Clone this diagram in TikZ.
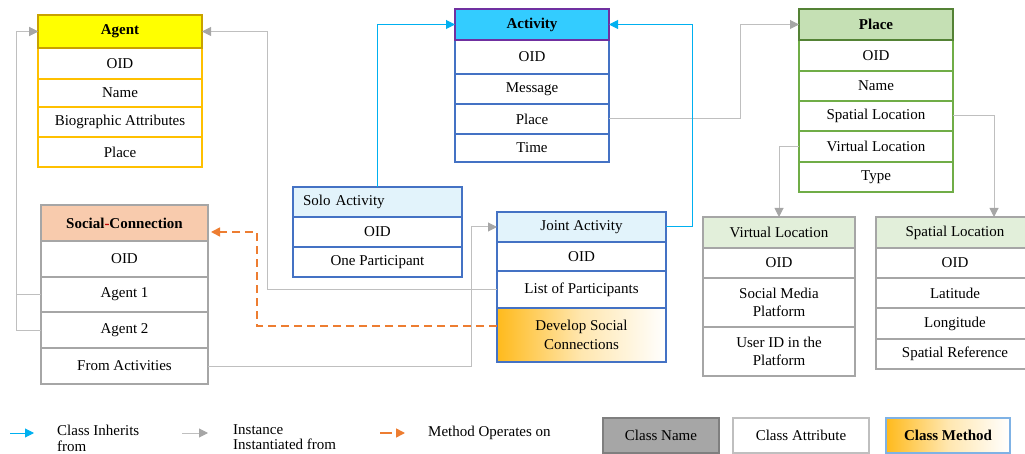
\documentclass[tikz,border=0pt]{standalone}
\usepackage{fontspec}
\setmainfont{Liberation Serif}
\usetikzlibrary{arrows.meta,calc}
\definecolor{agtfill}{HTML}{FFFF00}
\definecolor{agthdr}{HTML}{C9A100}
\definecolor{agtrow}{HTML}{FFC000}
\definecolor{actfill}{HTML}{33CCFF}
\definecolor{acthdr}{HTML}{7030A0}
\definecolor{actrow}{HTML}{4472C4}
\definecolor{plcfill}{HTML}{C5E0B4}
\definecolor{plchdr}{HTML}{548235}
\definecolor{plcrow}{HTML}{70AD47}
\definecolor{socfill}{HTML}{F8CBAD}
\definecolor{grayrow}{HTML}{A6A6A6}
\definecolor{subfill}{HTML}{E2F3FB}
\definecolor{locfill}{HTML}{E2EFDA}
\definecolor{inhblue}{HTML}{00B0F0}
\definecolor{instgray}{HTML}{BFBFBF}
\definecolor{tipgray}{HTML}{A6A6A6}
\definecolor{methorange}{HTML}{ED7D31}
\definecolor{gradorange}{HTML}{FFBA1C}
\definecolor{hyphred}{HTML}{C00000}
\definecolor{namefill}{HTML}{A6A6A6}
\definecolor{nameborder}{HTML}{7F7F7F}
\definecolor{methborder}{HTML}{7FB2E5}
\tikzset{
  cell/.style={draw, line width=1.3pt, anchor=north west, inner sep=0pt, outer sep=0pt,
    align=center, font=\fontsize{15}{17.5}\selectfont},
  agthead/.style={cell, fill=agtfill, draw=agthdr, font=\fontsize{15}{17.5}\selectfont\bfseries},
  agtcell/.style={cell, draw=agtrow},
  acthead/.style={cell, fill=actfill, draw=acthdr, font=\fontsize{15}{17.5}\selectfont\bfseries},
  actcell/.style={cell, draw=actrow},
  plchead/.style={cell, fill=plcfill, draw=plchdr, font=\fontsize{15}{17.5}\selectfont\bfseries},
  plccell/.style={cell, draw=plcrow},
  sochead/.style={cell, fill=socfill, draw=grayrow, font=\fontsize{15}{17.5}\selectfont\bfseries},
  soccell/.style={cell, draw=grayrow},
  subhead/.style={cell, fill=subfill, draw=actrow},
  methcell/.style={cell, draw=actrow, left color=gradorange, right color=white, middle color=gradorange!35},
  lochead/.style={cell, fill=locfill, draw=grayrow},
  loccell/.style={cell, draw=grayrow},
  inh/.style={draw=inhblue, line width=1pt, -{Triangle[length=9pt,width=9pt]}},
  inst/.style={draw=instgray, line width=1pt, -{Triangle[length=9pt,width=9pt,fill=tipgray,color=tipgray]}},
  meth/.style={draw=methorange, line width=1.6pt, dash pattern=on 8pt off 5pt, -{Triangle[length=9pt,width=9pt]}},
  legtext/.style={anchor=north west, inner sep=0pt, align=left, font=\fontsize{15}{15.5}\selectfont},
}
\begin{document}
\begin{tikzpicture}[x=1pt,y=-1pt]
\useasboundingbox (0,0) rectangle (1025,454);
% Agent
\node[agtcell, minimum width=164pt, minimum height=31pt] (agtoid) at (38,48) {OID};
\node[agtcell, minimum width=164pt, minimum height=28pt] (agtname) at (38,79) {Name};
\node[agtcell, minimum width=164pt, minimum height=30pt] (agtbio) at (38,107) {Biographic Attributes};
\node[agtcell, minimum width=164pt, minimum height=30pt] (agtplace) at (38,137) {Place};
\node[agthead, minimum width=164pt, minimum height=33pt] (agt) at (38,15) {Agent};
% Activity
\node[actcell, minimum width=154pt, minimum height=34pt] (actoid) at (455,40) {OID};
\node[actcell, minimum width=154pt, minimum height=30pt] (actmsg) at (455,74) {Message};
\node[actcell, minimum width=154pt, minimum height=30pt] (actplace) at (455,104) {Place};
\node[actcell, minimum width=154pt, minimum height=28pt] (acttime) at (455,134) {Time};
\node[acthead, minimum width=154pt, minimum height=31pt] (act) at (455,9) {Activity};
% Place
\node[plccell, minimum width=154pt, minimum height=31pt] (plcoid) at (799,40) {OID};
\node[plccell, minimum width=154pt, minimum height=30pt] (plcname) at (799,71) {Name};
\node[plccell, minimum width=154pt, minimum height=30pt] (plcspat) at (799,101) {Spatial Location};
\node[plccell, minimum width=154pt, minimum height=31pt] (plcvirt) at (799,131) {Virtual Location};
\node[plccell, minimum width=154pt, minimum height=30pt] (plctype) at (799,162) {Type};
\node[plchead, minimum width=154pt, minimum height=31pt] (plc) at (799,9) {Place};
% Solo Activity
\node[subhead, minimum width=169pt, minimum height=30pt, text width=149pt, align=left] (solo) at (293,187) {Solo Activity};
\node[actcell, minimum width=169pt, minimum height=30pt] (solooid) at (293,217) {OID};
\node[actcell, minimum width=169pt, minimum height=30pt] (soloone) at (293,247) {One Participant};
% Joint Activity
\node[subhead, minimum width=169pt, minimum height=30pt] (joint) at (497,212) {Joint Activity};
\node[actcell, minimum width=169pt, minimum height=29pt] (jointoid) at (497,242) {OID};
\node[actcell, minimum width=169pt, minimum height=37pt] (jointlist) at (497,271) {List of Participants};
\node[methcell, minimum width=169pt, minimum height=54pt, font=\fontsize{15}{18.5}\selectfont] (jointdev) at (497,308) {Develop Social\\Connections};
% Social-Connection
\node[sochead, minimum width=167pt, minimum height=36pt] (soc) at (41,205) {Social{\color{hyphred}-}Connection};
\node[soccell, minimum width=167pt, minimum height=36pt] (socoid) at (41,241) {OID};
\node[soccell, minimum width=167pt, minimum height=35pt] (soca1) at (41,277) {Agent 1};
\node[soccell, minimum width=167pt, minimum height=36pt] (soca2) at (41,312) {Agent 2};
\node[soccell, minimum width=167pt, minimum height=36pt] (socfrom) at (41,348) {From Activities};
% Virtual Location
\node[lochead, minimum width=152pt, minimum height=31pt] (vl) at (703,217) {Virtual Location};
\node[loccell, minimum width=152pt, minimum height=30pt] (vloid) at (703,248) {OID};
\node[loccell, minimum width=152pt, minimum height=49pt] (vlsmp) at (703,278) {Social Media\\Platform};
\node[loccell, minimum width=152pt, minimum height=49pt] (vluid) at (703,327) {User ID in the\\Platform};
% Spatial Location
\node[lochead, minimum width=158pt, minimum height=31pt] (sl) at (876,217) {Spatial Location};
\node[loccell, minimum width=158pt, minimum height=30pt] (sloid) at (876,248) {OID};
\node[loccell, minimum width=158pt, minimum height=30pt] (sllat) at (876,278) {Latitude};
\node[loccell, minimum width=158pt, minimum height=31pt] (sllon) at (876,308) {Longitude};
\node[loccell, minimum width=158pt, minimum height=30pt] (slref) at (876,339) {Spatial Reference};
% Connectors: instances
\draw[inst] (soca1.west) -- ++(-25,0) |- (agt.west);
\draw[inst] (soca2.west) -- ++(-25,0) |- (agt.west);
\draw[inst] (jointlist.west) -| ($(agt.east)+(65,0)$) -- (agt.east);
\draw[inst] (actplace.east) -| ($(plc.west)+(-59,0)$) -- (plc.west);
\draw[inst] (plcspat.east) -| ($(sl.north west)+(118,0)$);
\draw[inst] (plcvirt.west) -| (vl.north);
\draw[inst] (socfrom.east) -| ($(joint.west)+(-26,0)$) -- (joint.west);
% Connectors: inheritance
\draw[inh] (solo.north) |- (act.west);
\draw[inh] (joint.east) -| ($(act.east)+(83,0)$) -- (act.east);
% Method
\draw[meth] ($(jointdev.west)+(0,-9)$) -| ($(soc.east)+(49,9)$) -- ($(soc.east)+(3,9)$);
% Legend
\coordinate (lb1) at (10,433); \coordinate (lb2) at (34,433);
\coordinate (lg1) at (182,433); \coordinate (lg2) at (208,433);
\coordinate (lo1) at (380,433); \coordinate (lo2) at (405,433);
\draw[inh] (lb1) -- (lb2);
\draw[inst] (lg1) -- (lg2);
\draw[meth, dash pattern=on 12pt off 4pt] (lo1) -- (lo2);
\node[legtext] (ltinh) at (57,425) {Class Inherits\\from};
\node[legtext] (ltinst) at (233,424) {Instance\\Instantiated from};
\node[legtext] (ltmeth) at (428,426) {Method Operates on};
\node[cell, fill=namefill, draw=nameborder, minimum width=116pt, minimum height=35pt] (lgname) at (603,418) {Class Name};
\node[cell, draw=instgray, minimum width=136pt, minimum height=35pt] (lgattr) at (733,418) {Class Attribute};
\node[cell, draw=methborder, left color=gradorange, right color=white, middle color=gradorange!35, minimum width=124pt, minimum height=35pt, font=\fontsize{15}{17.5}\selectfont\bfseries] (lgmeth) at (886,418) {Class Method};
\end{tikzpicture}
\end{document}
